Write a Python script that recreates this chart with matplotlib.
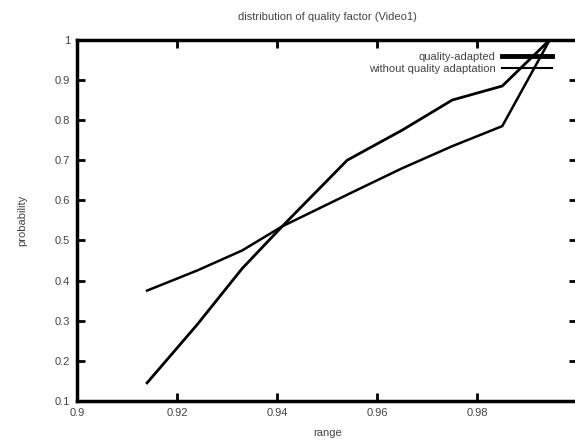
import matplotlib
matplotlib.use('Agg')
import matplotlib.pyplot as plt

plt.rcParams['font.family'] = ['Liberation Sans', 'DejaVu Sans']

# values
x_adapted = [0.914, 0.924, 0.933, 0.941, 0.954, 0.965, 0.975, 0.985, 0.9945]
y_adapted = [0.145, 0.29, 0.43, 0.535, 0.70, 0.775, 0.85, 0.885, 1.0]

x_without = [0.914, 0.924, 0.933, 0.941, 0.955, 0.965, 0.975, 0.985, 0.9945]
y_without = [0.375, 0.425, 0.475, 0.535, 0.62, 0.68, 0.735, 0.785, 1.0]

x_ticks = [0.9, 0.92, 0.94, 0.96, 0.98]
x_ticklabels = ['0.9', '0.92', '0.94', '0.96', '0.98']
y_ticks = [0.1, 0.2, 0.3, 0.4, 0.5, 0.6, 0.7, 0.8, 0.9, 1.0]
y_ticklabels = ['0.1', '0.2', '0.3', '0.4', '0.5', '0.6', '0.7', '0.8', '0.9', '1']

txt = '#444444'

fig = plt.figure(figsize=(5.75, 4.43), dpi=100)
ax = fig.add_axes([0.134, 0.095, 0.870, 0.815])

ax.plot(x_adapted, y_adapted, '-', color='black', lw=2.0, label='quality-adapted')
ax.plot(x_without, y_without, '-', color='black', lw=1.8, label='without quality adaptation')

ax.set_xlim(0.9, 1.0)
ax.set_ylim(0.1, 1.0)
ax.set_xticks(x_ticks)
ax.set_xticklabels(x_ticklabels)
ax.set_yticks(y_ticks)
ax.set_yticklabels(y_ticklabels)
ax.tick_params(direction='in', length=6, width=2, top=True, right=True,
               labelsize=8, labelcolor=txt, pad=5)

for s in ax.spines.values():
    s.set_linewidth(2.5)

ax.set_title('distribution of quality factor (Video1)', fontsize=8, color=txt, pad=14)
ax.set_xlabel('range', fontsize=8, color=txt, labelpad=7)
ax.set_ylabel('probability', fontsize=8, color=txt, labelpad=20)

# legend with separate sample widths as in the original
h = [plt.Line2D([], [], color='black', lw=3.5),
     plt.Line2D([], [], color='black', lw=1.5)]
leg = ax.legend(h, ['quality-adapted', 'without quality adaptation'],
                loc='upper right', bbox_to_anchor=(0.97, 0.995),
                frameon=False, markerfirst=False, fontsize=8,
                handlelength=4.5, handletextpad=0.6, labelspacing=0.2)
for t in leg.get_texts():
    t.set_color(txt)

fig.savefig('out.png', dpi=100)
